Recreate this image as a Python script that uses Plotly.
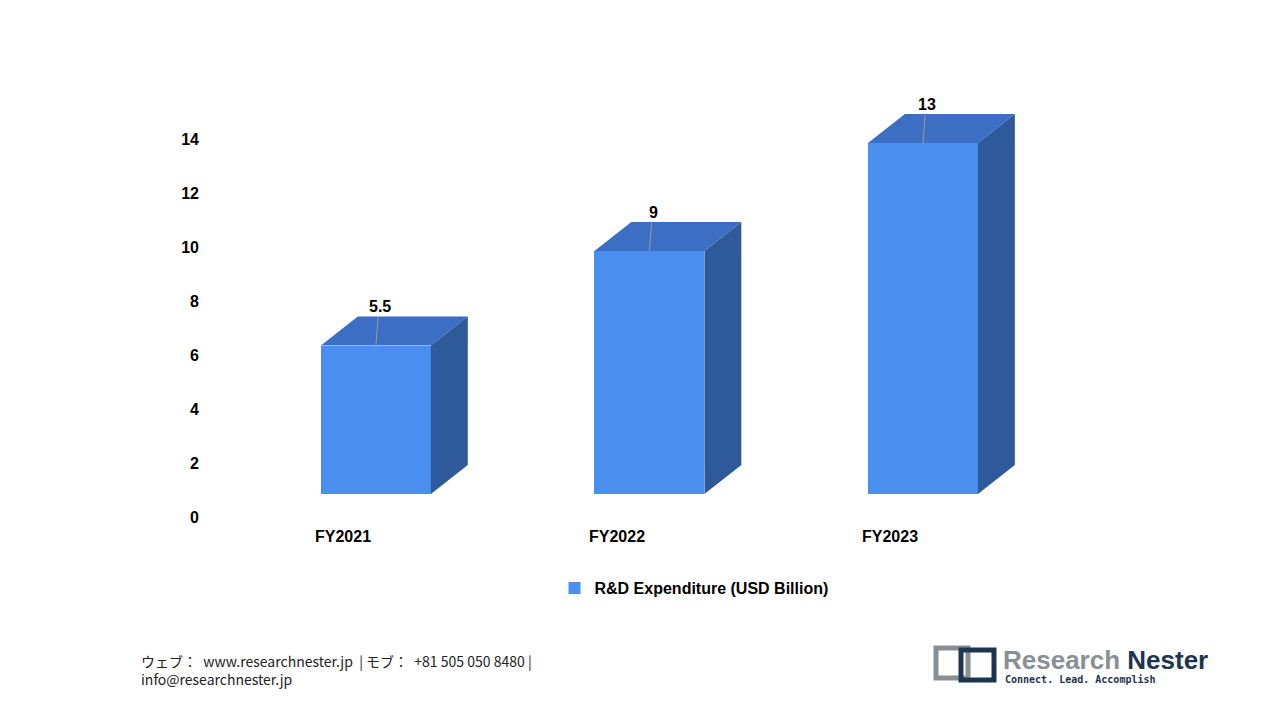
import plotly.graph_objects as go

years = ["FY2021", "FY2022", "FY2023"]
rd_spend = [5.5, 9, 13]
y_ticks = [0, 2, 4, 6, 8, 10, 12, 14]

front_col = "#4a8ef0"
top_col = "#3c6fc4"
side_col = "#2e5a9c"

L, R, T, B = 192, 138, 73, 197
W, H = 1280 - L - R, 720 - T - B


def px(xp):
    return (xp - L) / W


def py(yp):
    return 1 - (yp - T) / H


xs = list(range(len(years)))
bw = 0.402       # bar width in x units
dx, dy = 0.135, 1.074   # fake 3d depth

fig = go.Figure()
fig.add_trace(go.Bar(x=xs, y=rd_spend, width=bw, yaxis="y2", marker_color=front_col,
                     marker_line_width=0, name="<b>R&D Expenditure (USD Billion)</b>",
                     showlegend=True, hoverinfo="y"))
# invisible trace to keep the tick axis alive
fig.add_trace(go.Scatter(x=[xs[0]], y=[0], mode="markers", marker_opacity=0,
                         showlegend=False, hoverinfo="skip"))

for x, v in zip(xs, rd_spend):
    x0, x1 = x - bw / 2, x + bw / 2
    fig.add_shape(type="path", xref="x", yref="y2", line_width=0, fillcolor=top_col,
                  path=f"M{x0},{v} L{x1},{v} L{x1+dx},{v+dy} L{x0+dx},{v+dy} Z")
    fig.add_shape(type="path", xref="x", yref="y2", line_width=0, fillcolor=side_col,
                  path=f"M{x1},0 L{x1},{v} L{x1+dx},{v+dy} L{x1+dx},{dy} Z")
    # leader line + value label
    fig.add_shape(type="line", xref="x", yref="y2", x0=x, y0=v, x1=x + 0.008, y1=v + 1.05,
                  line=dict(color="#999999", width=1))
    fig.add_annotation(x=x + 0.015, y=v + 1.05, xref="x", yref="y2", text=f"<b>{v:g}</b>",
                       showarrow=False, yanchor="bottom", font=dict(size=16, color="black"))
    # category label
    fig.add_annotation(x=x - 0.12, y=py(539), xref="x", yref="paper", text=f"<b>{years[x]}</b>",
                       showarrow=False, font=dict(size=16, color="black"))

fig.update_layout(
    width=1280, height=720,
    margin=dict(l=L, r=R, t=T, b=B, autoexpand=False),
    plot_bgcolor="white", paper_bgcolor="white",
    font=dict(family="Liberation Sans, Arial, sans-serif", color="black"),
    xaxis=dict(range=[-0.643, 2.83], showticklabels=False, showgrid=False, zeroline=False),
    yaxis=dict(range=[-0.52, 16.15], tickvals=y_ticks, ticktext=[f"<b>{t}</b>" for t in y_ticks],
               showgrid=False, zeroline=False, tickfont=dict(size=16), ticklabelstandoff=0),
    yaxis2=dict(range=[-1.37, 15.3], overlaying="y", visible=False),
    legend=dict(orientation="h", x=px(686), xanchor="center", y=py(580), yanchor="middle",
                font=dict(size=16), itemwidth=30),
    bargap=0,
)

# footer
fig.add_annotation(xref="paper", yref="paper", x=px(131), y=py(641), xanchor="left", yanchor="top",
                   align="left", showarrow=False,
                   text="ウェブ：  www.researchnester.jp  | モブ：  +81 505 050 8480 |<br>info@researchnester.jp",
                   font=dict(size=14, family="Noto Sans CJK JP, Liberation Sans", color="#222222"))
# logo
fig.add_shape(type="rect", xref="paper", yref="paper", x0=px(928), x1=px(960), y0=py(670), y1=py(640),
              line=dict(color="#8a8f96", width=5), fillcolor="white")
fig.add_shape(type="rect", xref="paper", yref="paper", x0=px(953), x1=px(986), y0=py(672), y1=py(642),
              line=dict(color="#1e3450", width=5), fillcolor="rgba(0,0,0,0)")
fig.add_annotation(xref="paper", yref="paper", x=px(993), y=py(652), xanchor="left", yanchor="middle",
                   showarrow=False, text="<b><span style='color:#8a8f96'>Research</span> Nester</b>",
                   font=dict(size=26, color="#1e3450", family="Liberation Sans Narrow, Liberation Sans"))
fig.add_annotation(xref="paper", yref="paper", x=px(995), y=py(671), xanchor="left", yanchor="middle",
                   showarrow=False, text="<b>Connect. Lead. Accomplish</b>",
                   font=dict(size=10, color="#1e3450", family="DejaVu Sans Mono"))

fig.write_html("out.html")
